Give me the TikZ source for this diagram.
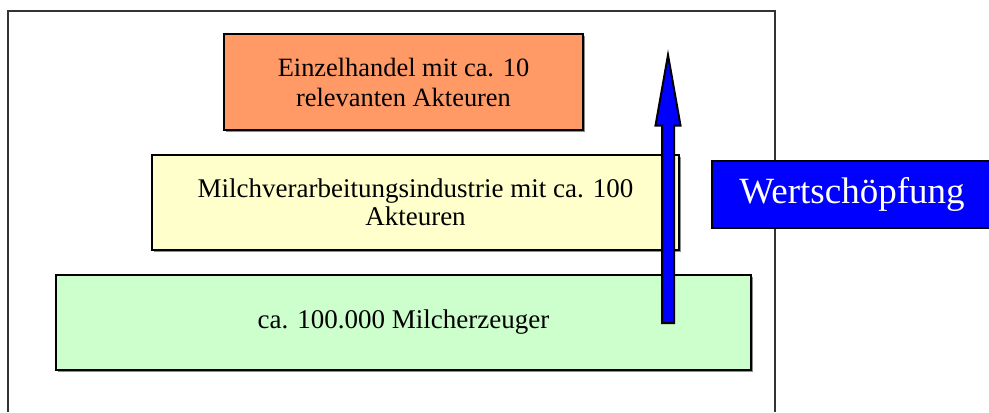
\documentclass[tikz,border=0pt]{standalone}
\usepackage{fontspec}
\setmainfont{Liberation Serif}
\usepackage{xcolor}
\usetikzlibrary{calc, shadows}

\definecolor{retailorange}{HTML}{FF9966}
\definecolor{dairyyellow}{HTML}{FFFFCC}
\definecolor{farmgreen}{HTML}{CCFFCC}
\definecolor{valueblue}{HTML}{0000FF}

\begin{document}
\begin{tikzpicture}[x=0.5pt,y=-0.5pt,
  stage/.style={draw,line width=1pt,rectangle,inner sep=0pt,align=center,minimum height=47.5pt,font=\fontsize{13.5}{14}\selectfont,drop shadow={shadow xshift=1pt,shadow yshift=-1pt,fill=black!45,opacity=1}},
  valuebox/.style={draw,line width=1pt,rectangle,inner sep=0pt,fill=valueblue,text=white,minimum width=140pt,minimum height=33.5pt,font=\fontsize{18.5}{22}\selectfont},
  flow/.style={draw=black,line width=1pt,fill=valueblue,line join=miter},
  frame/.style={draw=black!80,line width=0.6pt}]
  \useasboundingbox (0,0) rectangle (989,412);
  \draw[frame] (8,412) -- (8,11) -- (775,11) -- (775,412);
  \node[stage,fill=retailorange,minimum width=179.5pt,minimum height=48pt,font=\fontsize{13.2}{15}\selectfont] (retail) at (403.5,82) {Einzelhandel mit ca. 10\\relevanten Akteuren};
  \node[stage,fill=dairyyellow,minimum width=263.5pt] (dairy) at (415.5,202.5) {Milchverarbeitungsindustrie mit ca. 100\\Akteuren};
  \node[stage,fill=farmgreen,minimum width=347.5pt] (farms) at (403.5,322.5) {ca. 100.000 Milcherzeuger};
  \coordinate (tail) at (668,323);
  \coordinate (tip) at (668,55);
  \draw[flow] ($(tail)+(-6,0)$) -- ($(tail)+(6,0)$) -- ($(tip)+(6,70.5)$) -- ($(tip)+(12.5,70.5)$) -- (tip) -- ($(tip)+(-12.5,70.5)$) -- ($(tip)+(-6,70.5)$) -- cycle;
  \node[valuebox] (value) at (852,194.5) {Wertschöpfung};
\end{tikzpicture}
\end{document}
